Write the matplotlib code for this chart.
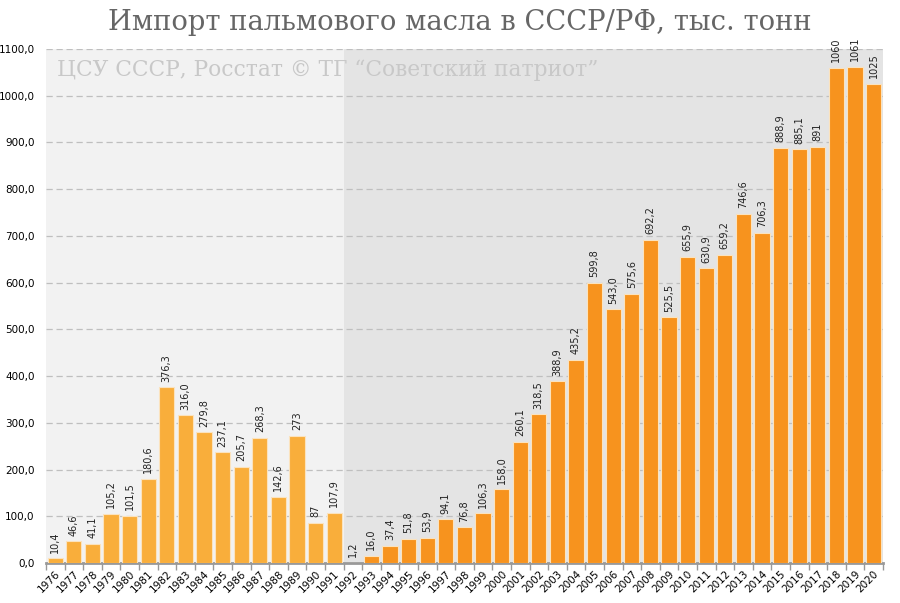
import matplotlib
matplotlib.use("Agg")
import matplotlib.pyplot as plt
import numpy as np

years = [str(y) for y in range(1976, 2021)]
values = [10.4, 46.6, 41.1, 105.2, 101.5, 180.6, 376.3, 316.0, 279.8, 237.1,
          205.7, 268.3, 142.6, 273, 87, 107.9,
          1.2, 16.0, 37.4, 51.8, 53.9, 94.1, 76.8, 106.3, 158.0, 260.1, 318.5,
          388.9, 435.2, 599.8, 543.0, 575.6, 692.2, 525.5, 655.9, 630.9, 659.2,
          746.6, 706.3, 888.9, 885.1, 891, 1060, 1061, 1025]
labels = ["10,4", "46,6", "41,1", "105,2", "101,5", "180,6", "376,3", "316,0",
          "279,8", "237,1", "205,7", "268,3", "142,6", "273", "87", "107,9",
          "1,2", "16,0", "37,4", "51,8", "53,9", "94,1", "76,8", "106,3", "158,0",
          "260,1", "318,5", "388,9", "435,2", "599,8", "543,0", "575,6", "692,2",
          "525,5", "655,9", "630,9", "659,2", "746,6", "706,3", "888,9", "885,1",
          "891", "1060", "1061", "1025"]
ussr_count = 16
yticks = np.arange(0, 1101, 100)

fig = plt.figure(figsize=(9, 6.03), dpi=100)
ax = fig.add_axes([0.051, 0.066, 0.930, 0.853])

n = len(years)
x = np.arange(n)
colors = ["#F9AE3B"] * ussr_count + ["#F7931E"] * (n - ussr_count)

ax.axvspan(-0.5, ussr_count - 0.5, color="#F2F2F2", zorder=0, lw=0)
ax.axvspan(ussr_count - 0.5, n - 0.5, color="#E4E4E4", zorder=0, lw=0)

ax.bar(x, values, width=0.82, color=colors, edgecolor="#FBE3BE", linewidth=0.8, zorder=3)

for xi, v, lab in zip(x, values, labels):
    ax.text(xi, v + 12, lab, rotation=90, ha="center", va="bottom",
            fontsize=7, color="#222222", zorder=4)

ax.set_xlim(-0.5, n - 0.5)
ax.set_ylim(0, 1100)
ax.set_yticks(yticks)
ax.set_yticklabels([f"{v:.1f}".replace(".", ",") for v in yticks], fontsize=7.5)
ax.yaxis.grid(True, linestyle=(0, (5, 3)), color="#BFBFBF", linewidth=0.9, zorder=1)
ax.set_axisbelow(True)
ax.tick_params(axis="y", length=0, pad=8)

ax.set_xticks(x)
ax.set_xticklabels(years, rotation=45, ha="right", rotation_mode="anchor", fontsize=7.5)
ax.tick_params(axis="x", length=0, pad=4)
ax.set_xticks(np.arange(-0.5, n, 1), minor=True)
ax.tick_params(axis="x", which="minor", length=5, color="#999999", width=1)

for s in ["top", "right", "left"]:
    ax.spines[s].set_visible(False)
ax.spines["bottom"].set_color("#999999")
ax.spines["bottom"].set_linewidth(2)

fig.text(0.511, 0.962, "Импорт пальмового масла в СССР/РФ, тыс. тонн",
         ha="center", va="center", fontsize=19.7, color="#666666",
         family="DejaVu Serif")
ax.text(0.013, 0.958, "ЦСУ СССР, Росстат © ТГ “Советский патриот”",
        transform=ax.transAxes, ha="left", va="center", fontsize=15.7,
        color="#C8C8C8", family="DejaVu Serif", zorder=2)

fig.savefig("out.png", dpi=100)
